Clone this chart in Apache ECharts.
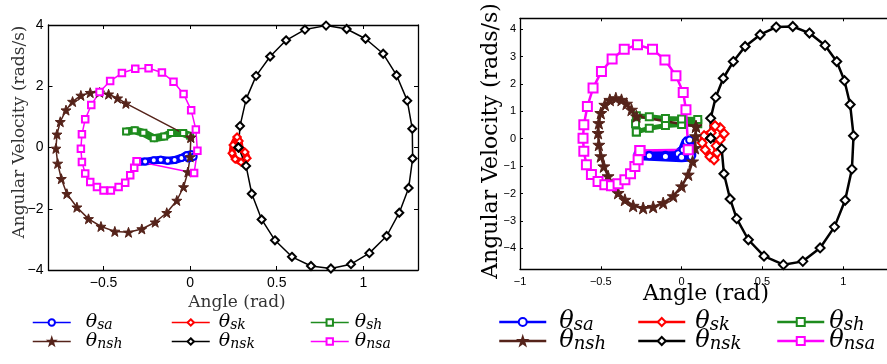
<!DOCTYPE html>
<html><head><meta charset="utf-8">
<script src="https://cdn.jsdelivr.net/npm/echarts@6/dist/echarts.min.js"></script>
<style>html,body{margin:0;padding:0;background:#fff}#c{width:887px;height:364px}</style>
</head><body><div id="c"></div>
<script>
// ---------- Tick labels ----------
const xTicksA = [-0.5, 0, 0.5, 1];
const yTicksA = [-4, -2, 0, 2, 4];
const xTicksB = [-1, -0.5, 0, 0.5, 1, 1.5];
const yTicksB = [-4, -3, -2, -1, 0, 1, 2, 3, 4];

// ---------- Left subplot (A) data: [angle, angular velocity] ----------
const sa_A = [[-0.31,-0.47],[-0.26,-0.46],[-0.21,-0.42],[-0.17,-0.40],[-0.13,-0.43],[-0.09,-0.41],[-0.05,-0.34],[-0.02,-0.25],[0.01,-0.22],[0.02,-0.30],[-0.01,-0.36]];
const sk_A = [[0.271,0.34],[0.248,0.08],[0.242,-0.19],[0.26,-0.38],[0.294,-0.48],[0.329,-0.35],[0.317,-0.15],[0.289,-0.02],[0.283,0.21],[0.271,0.34]];
const sh_A = [[-0.37,0.52],[-0.32,0.56],[-0.27,0.48],[-0.21,0.30],[-0.15,0.36],[-0.11,0.47],[-0.04,0.47],[0.0,0.38]];
const nsh_A = [[0.004,0.33],[-0.371,1.44],[-0.419,1.61],[-0.471,1.74],[-0.523,1.80],[-0.577,1.79],[-0.631,1.70],[-0.679,1.50],[-0.717,1.22],[-0.75,0.84],[-0.769,0.43],[-0.775,-0.03],[-0.765,-0.52],[-0.744,-1.02],[-0.712,-1.51],[-0.654,-1.95],[-0.587,-2.33],[-0.515,-2.58],[-0.435,-2.74],[-0.356,-2.77],[-0.279,-2.66],[-0.202,-2.44],[-0.135,-2.13],[-0.077,-1.73],[-0.038,-1.29],[-0.013,-0.80],[0.0,-0.31],[0.004,0.33]];
const nsk_A = [[0.279,0.0],[0.323,-0.6],[0.356,-1.51],[0.413,-2.35],[0.49,-3.03],[0.588,-3.57],[0.698,-3.87],[0.813,-3.95],[0.929,-3.81],[1.035,-3.45],[1.135,-2.89],[1.208,-2.13],[1.262,-1.32],[1.285,-0.36],[1.283,0.61],[1.254,1.53],[1.192,2.36],[1.115,3.06],[1.013,3.55],[0.904,3.87],[0.785,3.98],[0.663,3.85],[0.554,3.50],[0.462,2.97],[0.381,2.34],[0.323,1.57],[0.288,0.70],[0.279,0.0]];
const nsa_A = [[-0.308,-0.45],[0.023,-0.83],[0.042,-0.11],[0.033,0.59],[0.006,1.22],[-0.038,1.75],[-0.096,2.15],[-0.163,2.45],[-0.24,2.59],[-0.317,2.57],[-0.394,2.43],[-0.462,2.17],[-0.523,1.81],[-0.571,1.39],[-0.606,0.92],[-0.625,0.43],[-0.631,-0.04],[-0.625,-0.47],[-0.606,-0.85],[-0.577,-1.13],[-0.538,-1.29],[-0.5,-1.40],[-0.458,-1.40],[-0.413,-1.29],[-0.375,-1.15],[-0.346,-0.91],[-0.323,-0.66],[-0.308,-0.45]];

// ---------- Right subplot (B) data ----------
const sa_B = [[-0.27,-0.55],[-0.2,-0.60],[-0.1,-0.60],[-0.02,-0.55],[0.01,-0.40],[0.03,-0.10],[0.05,-0.05],[0.06,-0.30],[0.06,-0.65],[0.0,-0.68],[-0.1,-0.65],[-0.2,-0.62],[-0.27,-0.60]];
const sk_B = [[0.207,0.47],[0.183,0.22],[0.139,0.11],[0.127,-0.15],[0.146,-0.40],[0.176,-0.66],[0.201,-0.77],[0.22,-0.51],[0.214,-0.26],[0.238,-0.04],[0.263,0.18],[0.238,0.40],[0.207,0.47]];
const sh_B = [[-0.28,0.25],[-0.2,0.38],[-0.1,0.48],[0.0,0.52],[0.1,0.55],[0.1,0.70],[0.0,0.72],[-0.1,0.74],[-0.2,0.80],[-0.28,0.84],[-0.285,0.55],[-0.28,0.25]];
const nsh_B = [[0.089,0.45],[-0.279,0.82],[-0.31,1.06],[-0.341,1.28],[-0.372,1.42],[-0.407,1.48],[-0.444,1.42],[-0.475,1.24],[-0.5,0.94],[-0.512,0.57],[-0.517,0.21],[-0.512,-0.22],[-0.5,-0.64],[-0.481,-1.01],[-0.455,-1.37],[-0.424,-1.68],[-0.393,-1.98],[-0.351,-2.23],[-0.3,-2.45],[-0.238,-2.53],[-0.176,-2.49],[-0.114,-2.35],[-0.052,-2.1],[0.0,-1.74],[0.041,-1.31],[0.068,-0.83],[0.083,-0.34],[0.087,0.09],[0.089,0.45]];
const nsk_B = [[0.18,0.02],[0.248,-0.37],[0.262,-1.28],[0.30,-2.2],[0.341,-2.92],[0.413,-3.69],[0.51,-4.29],[0.63,-4.6],[0.75,-4.48],[0.857,-3.99],[0.946,-3.22],[1.012,-2.25],[1.054,-1.11],[1.064,0.11],[1.043,1.25],[1.008,2.12],[0.96,2.82],[0.888,3.41],[0.791,3.86],[0.688,4.1],[0.585,4.08],[0.486,3.80],[0.393,3.37],[0.32,2.82],[0.258,2.21],[0.211,1.51],[0.18,0.75],[0.18,0.02]];
const nsa_B = [[-0.258,-0.43],[0.041,-0.40],[0.027,1.06],[0.01,1.69],[-0.035,2.30],[-0.103,2.88],[-0.18,3.27],[-0.273,3.43],[-0.355,3.27],[-0.43,2.91],[-0.496,2.46],[-0.548,1.85],[-0.583,1.18],[-0.605,0.51],[-0.61,0.02],[-0.605,-0.46],[-0.589,-0.95],[-0.558,-1.31],[-0.517,-1.56],[-0.475,-1.68],[-0.434,-1.72],[-0.393,-1.64],[-0.351,-1.50],[-0.316,-1.28],[-0.289,-1.01],[-0.269,-0.77],[-0.258,-0.43]];

const keys = ['sa','sk','sh','nsh','nsk','nsa'];
const dataA = {sa:sa_A, sk:sk_A, sh:sh_A, nsh:nsh_A, nsk:nsk_A, nsa:nsa_A};
const dataB = {sa:sa_B, sk:sk_B, sh:sh_B, nsh:nsh_B, nsk:nsk_B, nsa:nsa_B};

const STAR = 'path://M0,-10L2.35,-3.24L9.51,-3.09L3.8,1.24L5.88,8.09L0,4L-5.88,8.09L-3.8,1.24L-9.51,-3.09L-2.35,-3.24Z';
const colors = {sa:'#0000ff', sk:'#ff0000', sh:'#1e8c1e', nsh:'#55231a', nsk:'#000000', nsa:'#ff00ff'};
const symbols = {sa:'emptyCircle', sk:'emptyDiamond', sh:'emptyRect', nsh:STAR, nsk:'emptyDiamond', nsa:'emptyRect'};
// [line width, symbol size, symbol border width]
const styleA = {sa:[8,6,2], sk:[7,7,2], sh:[8,6,2], nsh:[1.5,10,1], nsk:[1.5,8,1.8], nsa:[1.5,6.5,1.5]};
const styleB = {sa:[10,7,2], sk:[7,9,2], sh:[5,7,2], nsh:[2.5,12,1], nsk:[2.5,9,2.2], nsa:[2.5,9,2]};

const minus = v => String(v).replace('-', '\u2212');

function axes(dir, grid, min, max, ticks, fs, margin, tickLen) {
  const mainPos = dir === 'x' ? 'bottom' : 'left';
  const mirPos = dir === 'x' ? 'top' : 'right';
  return [mainPos, mirPos].map((pos, i) => ({
    type: 'value', gridIndex: grid, position: pos, min: min, max: max,
    axisLine: {show: true, onZero: false, lineStyle: {color: '#000', width: 1.3}},
    axisTick: {show: true, inside: true, length: tickLen, customValues: ticks, lineStyle: {color: '#000', width: 1}},
    axisLabel: {show: i === 0, customValues: ticks, formatter: minus, fontSize: fs, color: '#000',
                fontFamily: 'Liberation Sans', margin: margin},
    splitLine: {show: false}
  }));
}

const xAxis = [].concat(
  axes('x', 0, -0.818, 1.316, xTicksA, 14, 6, 4),
  axes('x', 1, -1, 1.5, xTicksB, 11, 7, 3));
const yAxis = [].concat(
  axes('y', 0, -4, 4, yTicksA, 14, 5, 4),
  axes('y', 1, -4.77, 4.40, yTicksB, 11, 4, 3));

const series = [];
[[dataA, styleA, 0, 'A'], [dataB, styleB, 1, 'B']].forEach(([d, st, g, tag]) => {
  keys.forEach(k => {
    series.push({
      name: k + '|' + tag, type: 'line', xAxisIndex: g * 2, yAxisIndex: g * 2,
      data: d[k], symbol: symbols[k], symbolSize: st[k][1], showSymbol: true, showAllSymbol: true,
      lineStyle: {color: colors[k], width: st[k][0]},
      itemStyle: {color: colors[k], borderColor: colors[k], borderWidth: st[k][2]},
      emphasis: {disabled: true}, z: 2
    });
  });
});

// ---------- legends ----------
const legendRows = [['sa','sk','sh'],['nsh','nsk','nsa']];
const legA = {tag:'A', iconLeft:[32,171,310], pad:[10,4,1], rowY:[323,342], iw:38, ih:8, lw:1.5, th:19, sub:14, lh:20};
const legB = {tag:'B', iconLeft:[498,637,776], pad:[8,5,0], rowY:[322,341], iw:47, ih:10, lw:2.5, th:24, sub:18, lh:24};
const legend = [];
[legA, legB].forEach(L => {
  legendRows.forEach((row, r) => {
    row.forEach((k, c) => {
      legend.push({
        data: [k + '|' + L.tag], left: L.iconLeft[c], top: L.rowY[r] - L.lh / 2,
        padding: 0, itemWidth: L.iw, itemHeight: L.ih, selectedMode: false,
        lineStyle: {width: L.lw},
        formatter: n => '{t|\u03b8}{s|' + n.split('|')[0] + '}',
        textStyle: {rich: {
          t: {fontFamily: 'DejaVu Serif', fontStyle: 'italic', fontSize: L.th, lineHeight: L.lh, color: '#000', padding: [0, 0, 0, L.pad[c]]},
          s: {fontFamily: 'DejaVu Serif', fontStyle: 'italic', fontSize: L.sub, lineHeight: L.sub, verticalAlign: 'bottom', color: '#000'}
        }}
      });
    });
  });
});

const chart = echarts.init(document.getElementById('c'), null, {renderer: 'canvas'});
chart.setOption({
  animation: false,
  backgroundColor: '#fff',
  grid: [
    {left: 48.5, top: 25, width: 369.5, height: 245, containLabel: false, outerBoundsMode: 'none'},
    {left: 520, top: 18.3, width: 404, height: 251, containLabel: false, outerBoundsMode: 'none'}
  ],
  xAxis: xAxis, yAxis: yAxis, series: series, legend: legend,
  graphic: [
    {type: 'text', x: 20, y: 132, rotation: Math.PI / 2,
     style: {text: 'Angular Velocity (rads/s)', font: '17px "DejaVu Serif"', align: 'center', verticalAlign: 'middle', fill: '#333'}},
    {type: 'text', x: 237, y: 303,
     style: {text: 'Angle (rad)', font: '17px "DejaVu Serif"', align: 'center', verticalAlign: 'middle', fill: '#333'}},
    {type: 'text', x: 491, y: 141, rotation: Math.PI / 2,
     style: {text: 'Angular Velocity (rads/s)', font: '22px "DejaVu Serif"', align: 'center', verticalAlign: 'middle', fill: '#000'}},
    {type: 'text', x: 706, y: 294,
     style: {text: 'Angle (rad)', font: '22px "DejaVu Serif"', align: 'center', verticalAlign: 'middle', fill: '#000'}}
  ]
});
</script></body></html>
